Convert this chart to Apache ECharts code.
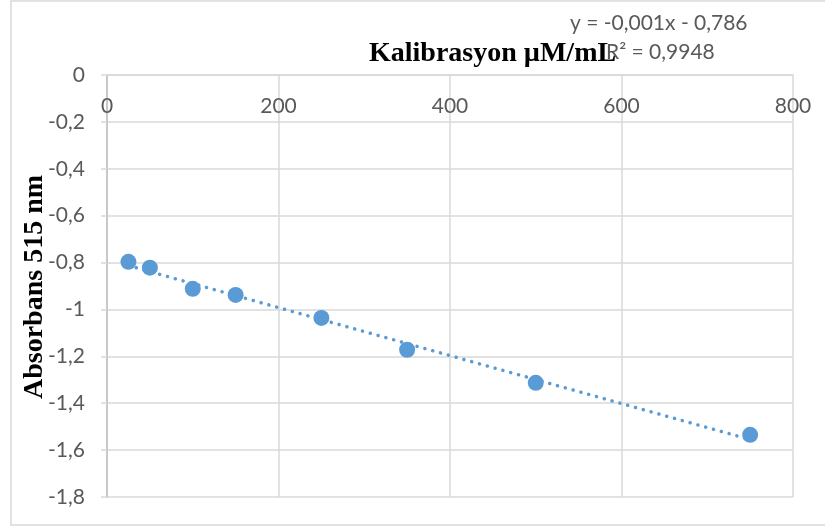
<!DOCTYPE html>
<html><head><meta charset="utf-8">
<script src="https://cdn.jsdelivr.net/npm/echarts@6/dist/echarts.min.js"></script>
<style>html,body{margin:0;padding:0;background:#fff}#c{width:825px;height:527px}</style>
</head><body><div id="c"></div>
<script>
const concentrations = [25, 50, 100, 150, 250, 350, 500, 750];
const absorbance = [-0.797, -0.822, -0.912, -0.938, -1.036, -1.172, -1.313, -1.535];
const xTicks = [0, 200, 400, 600, 800];
const yTicks = [0, -0.2, -0.4, -0.6, -0.8, -1, -1.2, -1.4, -1.6, -1.8];
const chartTitle = 'Kalibrasyon µM/mL';
const yTitle = 'Absorbans 515 nm';
const eqText = 'y = -0,001x - 0,786';
const r2Text = 'R² = 0,9948';

// linear regression trendline from data
const n = concentrations.length;
const mx = concentrations.reduce((a,b)=>a+b,0)/n;
const my = absorbance.reduce((a,b)=>a+b,0)/n;
let sxy=0, sxx=0;
for (let i=0;i<n;i++){ sxy+=(concentrations[i]-mx)*(absorbance[i]-my); sxx+=(concentrations[i]-mx)**2; }
const slope = sxy/sxx, icpt = my - slope*mx;
const xMin = Math.min(...concentrations), xMax = Math.max(...concentrations);
const trend = [[xMin, icpt+slope*xMin],[xMax, icpt+slope*xMax]];

const fmt = v => { const r = Math.round(v*10)/10; return String(r).replace('.', ','); };
const font = 'Lato, "Liberation Sans", sans-serif';
const serif = '"Liberation Serif", "Times New Roman", serif';
const chart = echarts.init(document.getElementById('c'), null, {renderer:'canvas'});
chart.setOption({
  animation:false,
  backgroundColor:'#fff',
  grid:{left:107, right:32, top:75, bottom:30, containLabel:false},
  xAxis:{type:'value', position:'top', min:xTicks[0], max:xTicks[xTicks.length-1], interval:200,
    axisLine:{show:true, onZero:false, lineStyle:{color:'#d9d9d9', width:1.5}},
    axisTick:{show:false},
    axisLabel:{inside:true, margin:21, color:'#595959', fontSize:21, fontFamily:font, verticalAlign:'top'},
    splitLine:{show:true, lineStyle:{color:'#d9d9d9', width:1.5}}},
  yAxis:{type:'value', min:yTicks[yTicks.length-1], max:yTicks[0], interval:0.2,
    axisLine:{show:true, lineStyle:{color:'#bfbfbf', width:1.5}},
    axisTick:{show:true, length:6, lineStyle:{color:'#d9d9d9', width:1.5}},
    axisLabel:{margin:22, color:'#595959', fontSize:21, fontFamily:font, formatter:fmt},
    splitLine:{show:true, lineStyle:{color:'#d9d9d9', width:1.5}}},
  series:[
    {type:'line', data:trend, showSymbol:false, symbol:'none', z:2,
      lineStyle:{color:'#5b9bd5', width:3.5, type:[0.1,8], cap:'round'}},
    {type:'scatter', data:concentrations.map((x,i)=>[x,absorbance[i]]), symbolSize:16, z:3,
      itemStyle:{color:'#5b9bd5', opacity:1}}
  ],
  graphic:[
    {type:'rect', shape:{x:11, y:1, width:830, height:524}, style:{fill:'none', stroke:'#d9d9d9', lineWidth:1.5}, silent:true, z:-1},
    {type:'text', x:369, y:54, style:{text:chartTitle, font:'bold 28px '+serif, fill:'#000', textVerticalAlign:'middle'}, z:10},
    {type:'text', x:570, y:23, style:{text:eqText, font:'21px '+font, fill:'#595959', textVerticalAlign:'middle'}, z:11},
    {type:'text', x:606, y:52, style:{text:r2Text, font:'21px '+font, fill:'#595959', textVerticalAlign:'middle'}, z:11},
    {type:'text', x:35, y:287, rotation:Math.PI/2, style:{text:yTitle, font:'bold 28px '+serif, fill:'#000', textAlign:'center', textVerticalAlign:'middle'}, z:10}
  ]
});
</script></body></html>
